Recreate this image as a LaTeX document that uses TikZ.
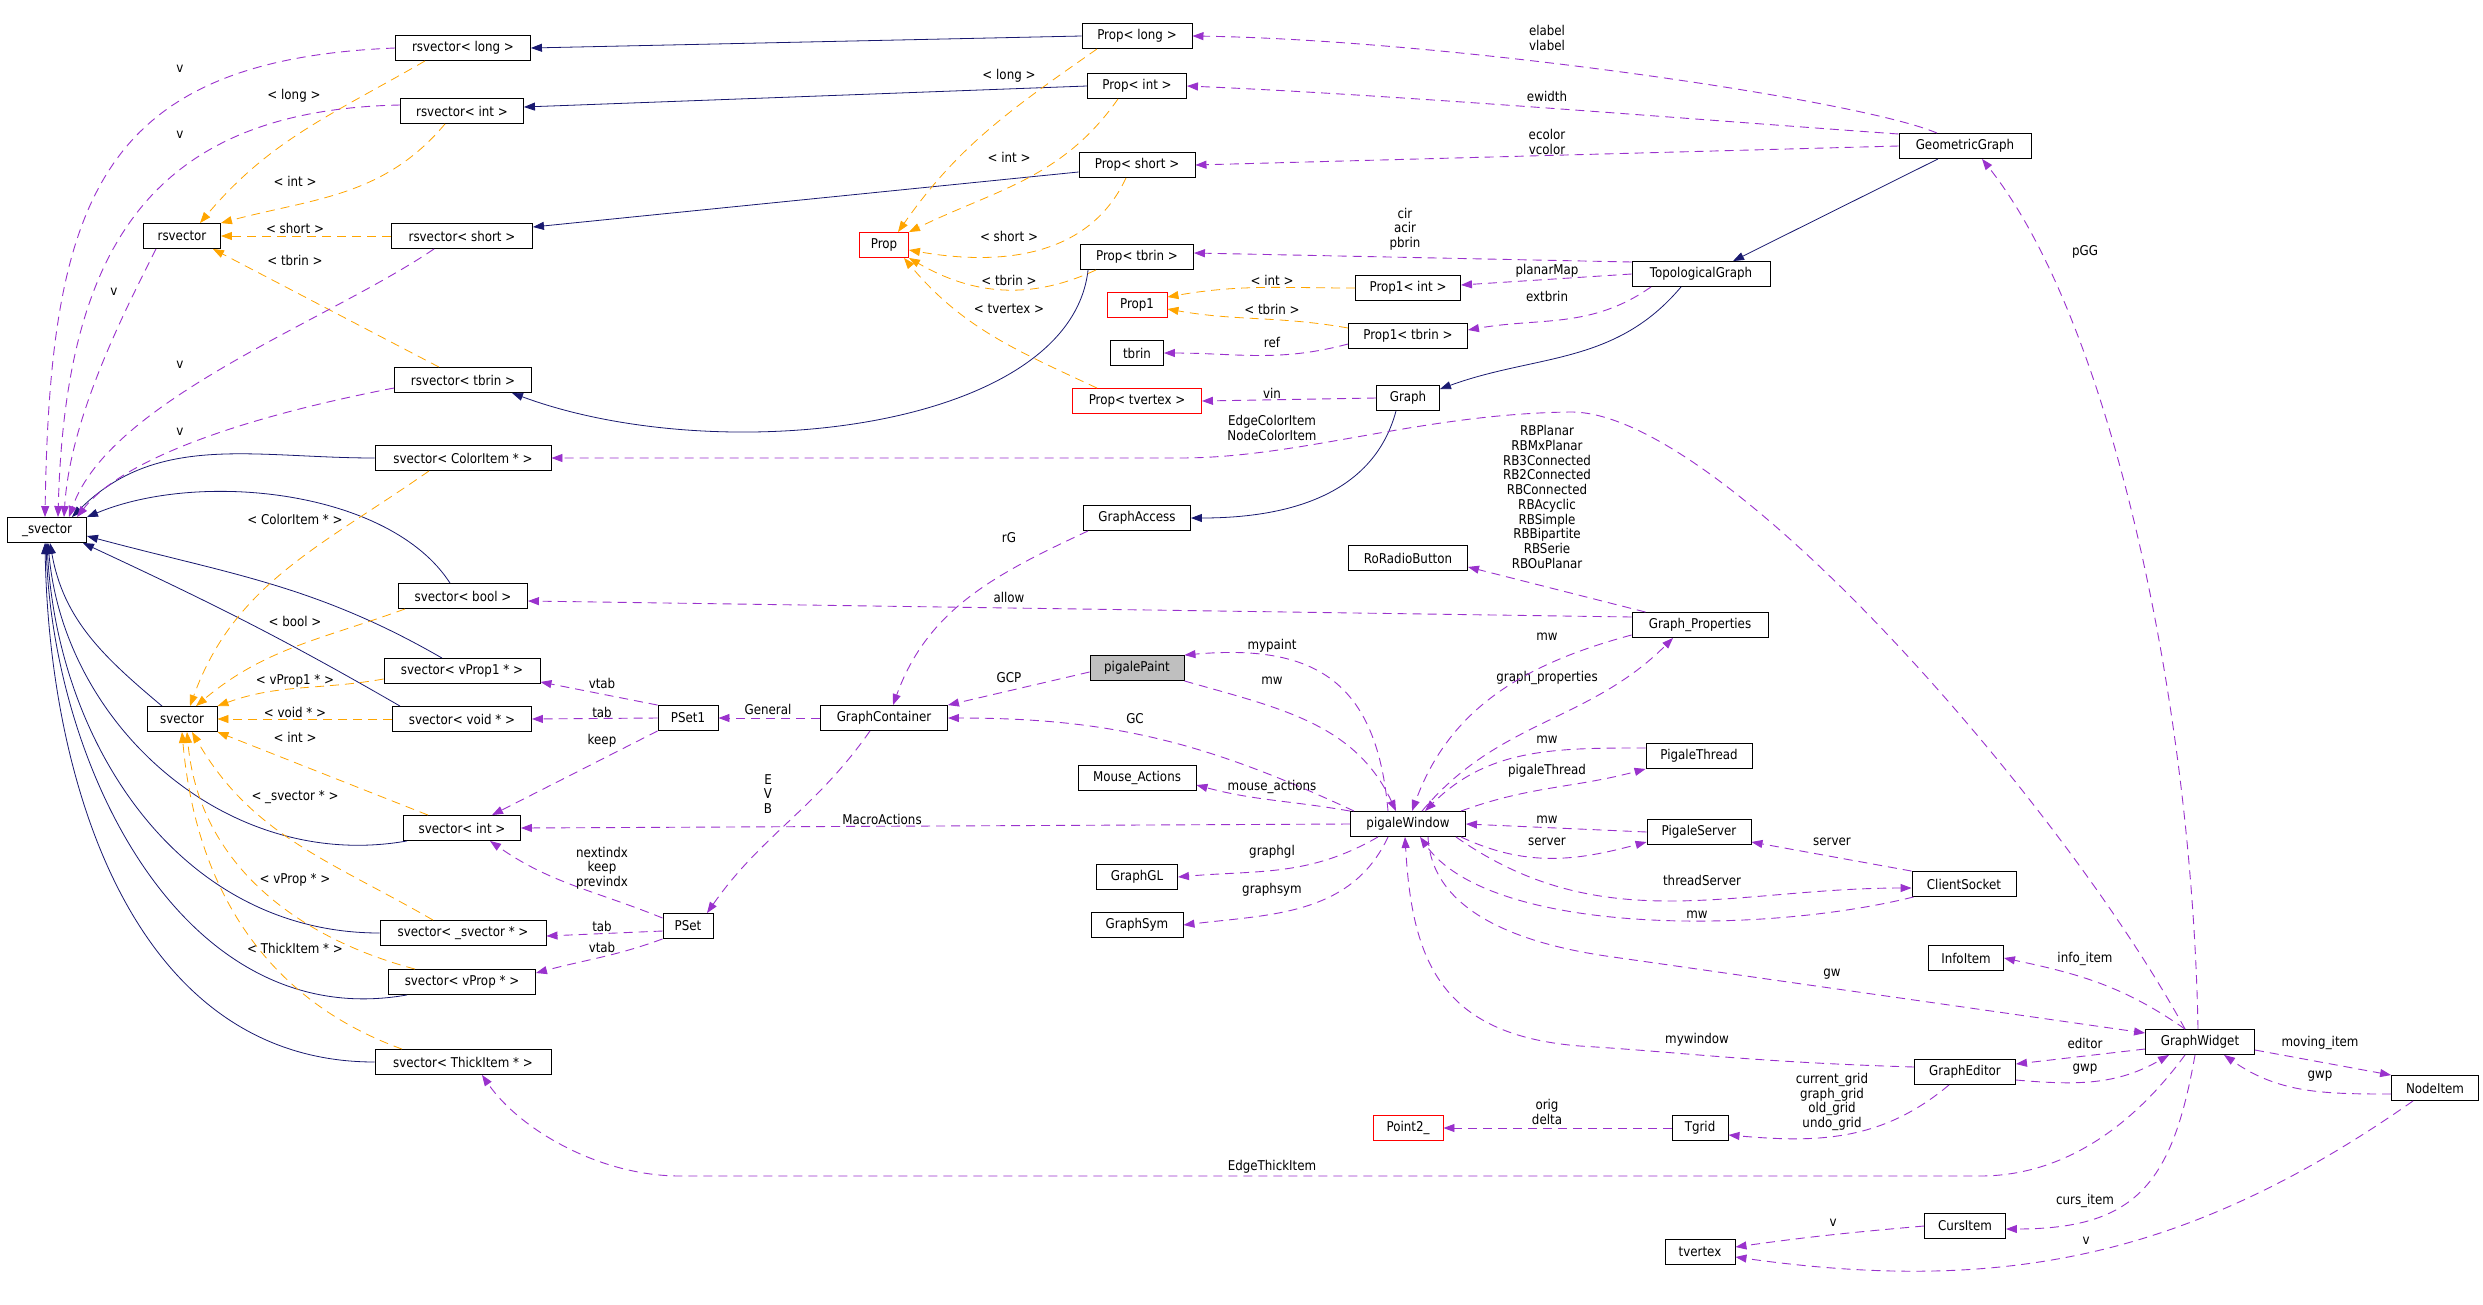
\documentclass[tikz,border=0pt]{standalone}
\usepackage{fontspec}
\setmainfont{DejaVu Sans}[FakeStretch=0.88]
\usetikzlibrary{arrows.meta}
\usepackage{xcolor}
\definecolor{inherit}{HTML}{191970}
\definecolor{member}{HTML}{9A32CD}
\definecolor{templ}{HTML}{FFA500}
\definecolor{focus}{HTML}{BFBFBF}
\tikzset{
  >={Triangle[length=11pt,width=8pt]},
  every node/.style={font=\fontsize{13.5}{14.7}\selectfont,text=black},
  cls/.style={draw=black,line width=0.9pt,fill=white,minimum height=25pt,inner xsep=2pt,inner ysep=2pt,align=center},
  undoccls/.style={cls,draw=red},
  focuscls/.style={cls,fill=focus},
  isa/.style={->,line width=0.8pt,draw=inherit},
  uses/.style={->,line width=0.9pt,draw=member,dash pattern=on 9pt off 6pt},
  tmpl/.style={->,line width=0.8pt,draw=templ,dash pattern=on 9pt off 6pt},
  lbl/.style={inner sep=0pt,align=center},
}

\begin{document}
\begin{tikzpicture}[x=1pt,y=-1pt]
\path[use as bounding box,fill=white] (0,0) rectangle (2483,1304);

\node[cls,minimum width=79pt] (usvector) at (47,530) {\_svector};
\node[cls,minimum width=77pt] (rsvector) at (182,236) {rsvector};
\node[cls,minimum width=70pt] (svector) at (182,719) {svector};
\node[cls,minimum width=135pt] (rsvLong) at (463,48) {rsvector< long >};
\node[cls,minimum width=123pt] (rsvInt) at (462,111) {rsvector< int >};
\node[cls,minimum width=141pt] (rsvShort) at (462,236) {rsvector< short >};
\node[cls,minimum width=137pt] (rsvTbrin) at (463,380) {rsvector< tbrin >};
\node[cls,minimum width=176pt] (svColor) at (463,458) {svector< ColorItem * >};
\node[cls,minimum width=129pt] (svBool) at (463,596) {svector< bool >};
\node[cls,minimum width=156pt] (svVPropOne) at (462,671) {svector< vProp1 * >};
\node[cls,minimum width=139pt] (svVoid) at (462,719) {svector< void * >};
\node[cls,minimum width=117pt] (svInt) at (462,828) {svector< int >};
\node[cls,minimum width=166pt] (svSvector) at (463,933) {svector< \_svector * >};
\node[cls,minimum width=147pt] (svVProp) at (462,982) {svector< vProp * >};
\node[cls,minimum width=176pt] (svThick) at (463,1062) {svector< ThickItem * >};
\node[cls,minimum width=60pt] (PSetOne) at (688,718) {PSet1};
\node[cls,minimum width=50pt] (PSet) at (688,926) {PSet};
\node[undoccls,minimum width=49pt] (Prop) at (884,245) {Prop};
\node[cls,minimum width=127pt] (GraphContainer) at (884,718) {GraphContainer};
\node[cls,minimum width=110pt] (PropLong) at (1137,36) {Prop< long >};
\node[cls,minimum width=99pt] (PropInt) at (1137,86) {Prop< int >};
\node[cls,minimum width=116pt] (PropShort) at (1137,165) {Prop< short >};
\node[cls,minimum width=113pt] (PropTbrin) at (1137,257) {Prop< tbrin >};
\node[undoccls,minimum width=60pt] (PropOne) at (1137,305) {Prop1};
\node[cls,minimum width=53pt] (tbrin) at (1137,353) {tbrin};
\node[undoccls,minimum width=129pt] (PropTvertex) at (1137,401) {Prop< tvertex >};
\node[cls,minimum width=107pt] (GraphAccess) at (1137,518) {GraphAccess};
\node[focuscls,minimum width=94pt] (pigalePaint) at (1137,668) {pigalePaint};
\node[cls,minimum width=118pt] (MouseActions) at (1137,778) {Mouse\_Actions};
\node[cls,minimum width=81pt] (GraphGL) at (1137,877) {GraphGL};
\node[cls,minimum width=92pt] (GraphSym) at (1137,925) {GraphSym};
\node[cls,minimum width=105pt] (PropOneInt) at (1408,288) {Prop1< int >};
\node[cls,minimum width=119pt] (PropOneTbrin) at (1408,336) {Prop1< tbrin >};
\node[cls,minimum width=63pt] (Graph) at (1408,398) {Graph};
\node[cls,minimum width=119pt] (RoRadioButton) at (1408,558) {RoRadioButton};
\node[cls,minimum width=115pt] (pigaleWindow) at (1408,824) {pigaleWindow};
\node[undoccls,minimum width=70pt] (PointTwo) at (1408,1128) {Point2\_};
\node[cls,minimum width=138pt] (TopologicalGraph) at (1701,274) {TopologicalGraph};
\node[cls,minimum width=136pt] (GraphProperties) at (1700,625) {Graph\_Properties};
\node[cls,minimum width=106pt] (PigaleThread) at (1699,756) {PigaleThread};
\node[cls,minimum width=104pt] (PigaleServer) at (1699,832) {PigaleServer};
\node[cls,minimum width=56pt] (Tgrid) at (1700,1128) {Tgrid};
\node[cls,minimum width=70pt] (tvertex) at (1700,1252) {tvertex};
\node[cls,minimum width=132pt] (GeometricGraph) at (1965,146) {GeometricGraph};
\node[cls,minimum width=104pt] (ClientSocket) at (1964,884) {ClientSocket};
\node[cls,minimum width=75pt] (InfoItem) at (1966,958) {InfoItem};
\node[cls,minimum width=101pt] (GraphEditor) at (1965,1072) {GraphEditor};
\node[cls,minimum width=81pt] (CursItem) at (1965,1226) {CursItem};
\node[cls,minimum width=109pt] (GraphWidget) at (2200,1042) {GraphWidget};
\node[cls,minimum width=87pt] (NodeItem) at (2435,1088) {NodeItem};

% inheritance
\draw[isa] (PropLong.west) -- (rsvLong.east);
\draw[isa] (PropInt.west) -- ([yshift=4pt]rsvInt.east);
\draw[isa] ([yshift=-7pt]PropShort.west) -- ([yshift=9pt]rsvShort.east);
\draw[isa] ([xshift=8pt]PropTbrin.south west) .. controls (1070,430) and (720,470) .. ([xshift=-20pt]rsvTbrin.south east);
\draw[isa] ([xshift=-27pt]GeometricGraph.south) -- ([xshift=32pt]TopologicalGraph.north);
\draw[isa] ([xshift=-20pt]TopologicalGraph.south) to[out=-130,in=20] ([yshift=-4pt]Graph.north east);
\draw[isa] ([xshift=-12pt]Graph.south) to[out=-105,in=0] (GraphAccess.east);
\draw[isa] (svColor.west) to[out=180,in=45] ([xshift=-15pt]usvector.north east);
\draw[isa] ([xshift=-13pt]svBool.north) .. controls (390,490) and (200,470) .. (usvector.north east);
\draw[isa] ([xshift=-20pt]svVPropOne.north) to[out=150,in=-15] ([yshift=-6pt]usvector.east);
\draw[isa] ([xshift=-62pt]svVoid.north) to[out=150,in=-25] ([xshift=-4pt]usvector.south east);
\draw[isa] ([xshift=-20pt]svector.north) to[out=140,in=-80] ([xshift=3pt]usvector.south);
\draw[isa] ([xshift=-55pt]svInt.south) to[out=-170,in=-85] ([xshift=1pt]usvector.south);
\draw[isa] (svSvector.west) to[out=180,in=-87] (usvector.south);
\draw[isa] ([xshift=-55pt]svVProp.south) to[out=-170,in=-88] ([xshift=-1pt]usvector.south);
\draw[isa] (svThick.west) to[out=180,in=-89] ([xshift=-2pt]usvector.south);

% template instances
\draw[tmpl] ([xshift=-38pt]rsvLong.south) to[out=-150,in=50] ([xshift=18pt]rsvector.north) node[lbl] at (294,96) {< long >};
\draw[tmpl] ([xshift=-17pt]rsvInt.south) to[out=-130,in=15] (rsvector.north east) node[lbl] at (295,181) {< int >};
\draw[tmpl] (rsvShort.west) -- (rsvector.east) node[lbl] at (295,228) {< short >};
\draw[tmpl] ([xshift=-24pt]rsvTbrin.north) -- ([xshift=-8pt]rsvector.south east) node[lbl] at (295,260) {< tbrin >};
\draw[tmpl] ([xshift=-40pt]PropLong.south) to[out=-145,in=55] ([xshift=14pt]Prop.north) node[lbl] at (1009,76) {< long >};
\draw[tmpl] ([xshift=-19pt]PropInt.south) to[out=-125,in=26] (Prop.north east) node[lbl] at (1009,157) {< int >};
\draw[tmpl] ([xshift=-11pt]PropShort.south) to[out=-115,in=-10] ([yshift=-5pt]Prop.east) node[lbl] at (1009,236) {< short >};
\draw[tmpl] ([xshift=-41pt]PropTbrin.south) to[out=-155,in=-30] (Prop.south east) node[lbl] at (1009,280) {< tbrin >};
\draw[tmpl] ([xshift=-40pt]PropTvertex.north) to[out=155,in=-50] ([xshift=-5pt]Prop.south east) node[lbl] at (1009,309) {< tvertex >};
\draw[tmpl] (PropOneInt.west) to[out=180,in=10] ([yshift=8pt]PropOne.east) node[lbl] at (1272,280) {< int >};
\draw[tmpl] ([yshift=8pt]PropOneTbrin.west) to[out=170,in=-10] ([yshift=-4pt]PropOne.east) node[lbl] at (1272,309) {< tbrin >};
\draw[tmpl] ([xshift=-34pt]svColor.south) to[out=-145,in=70] ([xshift=8pt]svector.north) node[lbl] at (295,519) {< ColorItem * >};
\draw[tmpl] ([xshift=-58pt]svBool.south) to[out=-160,in=40] ([xshift=14pt]svector.north) node[lbl] at (295,621) {< bool >};
\draw[tmpl] ([yshift=-8pt]svVPropOne.west) to[out=-170,in=20] (svector.north east) node[lbl] at (295,681) {< vProp1 * >};
\draw[tmpl] (svVoid.west) -- (svector.east) node[lbl] at (295,712) {< void * >};
\draw[tmpl] ([xshift=-34pt]svInt.north) -- (svector.south east) node[lbl] at (295,737) {< int >};
\draw[tmpl] ([xshift=-30pt]svSvector.north) to[out=150,in=-60] ([xshift=10pt]svector.south) node[lbl] at (295,797) {< \_svector * >};
\draw[tmpl] ([xshift=-47pt]svVProp.north) to[out=165,in=-85] ([xshift=5pt]svector.south) node[lbl] at (295,880) {< vProp * >};
\draw[tmpl] ([xshift=-61pt]svThick.north) to[out=160,in=-85] (svector.south) node[lbl] at (295,948) {< ThickItem * >};

% members
\draw[uses] (rsvLong.west) .. controls (100,60) and (50,200) .. ([xshift=-2pt]usvector.north) node[lbl] at (180,69) {v};
\draw[uses] ([yshift=6pt]rsvInt.west) .. controls (150,110) and (65,250) .. ([xshift=11pt]usvector.north) node[lbl] at (180,135) {v};
\draw[uses] ([xshift=-26pt]rsvector.south) .. controls (120,320) and (70,420) .. ([xshift=17pt]usvector.north) node[lbl] at (114,292) {v};
\draw[uses] ([xshift=-28pt]rsvShort.south) .. controls (330,320) and (110,400) .. ([xshift=22pt]usvector.north) node[lbl] at (180,365) {v};
\draw[uses] ([yshift=-8pt]rsvTbrin.west) .. controls (280,410) and (130,450) .. ([xshift=30pt]usvector.north) node[lbl] at (180,432) {v};
\draw[uses] ([xshift=-28pt]GeometricGraph.north) .. controls (1860,100) and (1450,40) .. (PropLong.east) node[lbl] at (1547,38) {elabel\\vlabel};
\draw[uses] ([yshift=12pt]GeometricGraph.west) .. controls (1700,120) and (1400,95) .. (PropInt.east) node[lbl] at (1547,96) {ewidth};
\draw[uses] (GeometricGraph.west) -- (PropShort.east) node[lbl] at (1547,142) {ecolor\\vcolor};
\draw[uses] ([yshift=12pt]TopologicalGraph.west) -- ([yshift=4pt]PropTbrin.east) node[lbl] at (1405,229) {cir\\acir\\pbrin};
\draw[uses] (TopologicalGraph.west) -- ([yshift=3pt]PropOneInt.east) node[lbl] at (1547,271) {planarMap};
\draw[uses] ([xshift=-50pt]TopologicalGraph.south) to[out=-145,in=10] ([yshift=6pt]PropOneTbrin.east) node[lbl] at (1547,296) {extbrin};
\draw[uses] ([yshift=-8pt]PropOneTbrin.west) to[out=195,in=0] (tbrin.east) node[lbl] at (1272,342) {ref};
\draw[uses] (Graph.west) -- (PropTvertex.east) node[lbl] at (1272,393) {vin};
\draw[uses] ([xshift=-15pt]GraphWidget.north) .. controls (2060,800) and (1720,410) .. (1570,412) .. controls (1420,414) and (1300,458) .. (1180,458) -- (svColor.east) node[lbl] at (1272,428) {EdgeColorItem\\NodeColorItem};
\draw[uses] ([xshift=-2pt]GraphWidget.north) .. controls (2192,700) and (2110,320) .. ([xshift=17pt]GeometricGraph.south) node[lbl] at (2085,252) {pGG};
\draw[uses] ([yshift=8pt]GraphProperties.west) -- ([yshift=-5pt]svBool.east) node[lbl] at (1009,597) {allow};
\draw[uses] ([xshift=14pt]GraphProperties.north west) -- ([yshift=4pt]RoRadioButton.south east) node[lbl] at (1547,497) {RBPlanar\\RBMxPlanar\\RB3Connected\\RB2Connected\\RBConnected\\RBAcyclic\\RBSimple\\RBBipartite\\RBSerie\\RBOuPlanar};
\draw[uses] ([xshift=-49pt]GraphAccess.south) to[out=-155,in=70] ([xshift=9pt]GraphContainer.north) node[lbl] at (1009,538) {rG};
\draw[uses] ([yshift=-4pt]pigalePaint.west) -- (GraphContainer.north east) node[lbl] at (1009,678) {GCP};
\draw[uses] ([xshift=4pt]pigaleWindow.north west) to[out=155,in=0] (GraphContainer.east) node[lbl] at (1135,719) {GC};
\draw[uses] (GraphContainer.west) -- (PSetOne.east) node[lbl] at (768,709) {General};
\draw[uses] ([xshift=-14pt]GraphContainer.south) to[out=-125,in=55] ([xshift=19pt]PSet.north) node[lbl] at (768,794) {E\\V\\B};
\draw[uses] (PSetOne.north west) -- ([yshift=2pt]svVPropOne.south east) node[lbl] at (602,683) {vtab};
\draw[uses] (PSetOne.west) -- (svVoid.east) node[lbl] at (602,712) {tab};
\draw[uses] (PSetOne.south west) -- ([xshift=30pt]svInt.north) node[lbl] at (602,741) {keep};
\draw[uses] ([yshift=8pt]PSet.west) to[out=158,in=-35] ([xshift=28pt]svInt.south) node[lbl] at (602,868) {nextindx\\keep\\previndx};
\draw[uses] ([yshift=-5pt]PSet.west) -- ([yshift=-3pt]svSvector.east) node[lbl] at (602,926) {tab};
\draw[uses] (PSet.south west) to[out=-160,in=15] ([yshift=9pt]svVProp.east) node[lbl] at (602,947) {vtab};
\draw[uses] ([xshift=-15pt]GraphWidget.south) .. controls (2130,1130) and (2060,1176) .. (1980,1176) -- (680,1176) .. controls (600,1176) and (520,1130) .. ([xshift=19pt]svThick.south) node[lbl] at (1272,1167) {EdgeThickItem};
\draw[uses] ([xshift=-20pt]pigaleWindow.north) to[out=95,in=5,looseness=1.3] (pigalePaint.north east) node[lbl] at (1272,646) {mypaint};
\draw[uses] (pigalePaint.south east) to[out=-16,in=115] ([xshift=-12pt]pigaleWindow.north) node[lbl] at (1272,681) {mw};
\draw[uses] (pigaleWindow.north west) to[out=170,in=-15] ([yshift=-7pt]MouseActions.east) node[lbl] at (1272,787) {mouse\_actions};
\draw[uses] (pigaleWindow.west) -- (svInt.east) node[lbl] at (882,819) {MacroActions};
\draw[uses] ([xshift=-30pt]pigaleWindow.south) to[out=-150,in=5] (GraphGL.east) node[lbl] at (1272,852) {graphgl};
\draw[uses] ([xshift=-20pt]pigaleWindow.south) to[out=-115,in=7] (GraphSym.east) node[lbl] at (1272,890) {graphsym};
\draw[uses] ([xshift=14pt]pigaleWindow.north) to[out=50,in=-135] ([xshift=-27pt]GraphProperties.south) node[lbl] at (1547,678) {graph\_properties};
\draw[uses] ([yshift=-10pt]GraphProperties.west) to[out=195,in=70] ([xshift=4pt]pigaleWindow.north) node[lbl] at (1547,637) {mw};
\draw[uses] ([yshift=8pt]PigaleThread.west) to[out=180,in=45] ([xshift=17pt]pigaleWindow.north) node[lbl] at (1547,740) {mw};
\draw[uses] ([xshift=-5pt]pigaleWindow.north east) to[out=20,in=195] (PigaleThread.south west) node[lbl] at (1547,771) {pigaleThread};
\draw[uses] (PigaleServer.west) -- (pigaleWindow.east) node[lbl] at (1547,820) {mw};
\draw[uses] ([xshift=-5pt]pigaleWindow.south east) to[out=-25,in=195] ([yshift=-10pt]PigaleServer.west) node[lbl] at (1547,842) {server};
\draw[uses] (ClientSocket.north west) -- ([yshift=-10pt]PigaleServer.east) node[lbl] at (1832,842) {server};
\draw[uses] ([xshift=-10pt]pigaleWindow.south east) to[out=-35,in=180] ([yshift=-4pt]ClientSocket.west) node[lbl] at (1702,880) {threadServer};
\draw[uses] ([xshift=2pt]ClientSocket.south west) .. controls (1760,935) and (1490,935) .. ([xshift=12pt]pigaleWindow.south) node[lbl] at (1697,915) {mw};
\draw[uses] ([xshift=20pt]pigaleWindow.south) .. controls (1432,920) and (1540,947) .. (1613,957) -- ([yshift=9pt]GraphWidget.west) node[lbl] at (1832,974) {gw};
\draw[uses] ([yshift=5pt]GraphEditor.west) .. controls (1750,1062) and (1680,1052) .. (1580,1046) .. controls (1440,1035) and (1412,960) .. ([xshift=-3pt]pigaleWindow.south) node[lbl] at (1697,1040) {mywindow};
\draw[uses] ([xshift=-15pt]GraphWidget.north) to[out=145,in=-12] (InfoItem.east) node[lbl] at (2085,959) {info\_item};
\draw[uses] ([yshift=-7pt]GraphWidget.west) -- ([yshift=8pt]GraphEditor.east) node[lbl] at (2085,1043) {editor};
\draw[uses] ([yshift=-8pt]GraphEditor.east) to[out=-5,in=-150] ([xshift=-31pt]GraphWidget.south) node[lbl] at (2085,1069) {gwp};
\draw[uses] ([yshift=-8pt]GraphWidget.east) -- (NodeItem.north west) node[lbl] at (2320,1043) {moving\_item};
\draw[uses] ([yshift=-6pt]NodeItem.west) to[out=180,in=-35] ([xshift=24pt]GraphWidget.south) node[lbl] at (2320,1076) {gwp};
\draw[uses] ([xshift=-16pt]GraphEditor.south) to[out=-140,in=-5] ([yshift=-7pt]Tgrid.east) node[lbl] at (1832,1102) {current\_grid\\graph\_grid\\old\_grid\\undo\_grid};
\draw[uses] (Tgrid.west) -- (PointTwo.east) node[lbl] at (1547,1112) {orig\\delta};
\draw[uses] ([xshift=-5pt]GraphWidget.south) to[out=-100,in=0,looseness=1.3] ([yshift=-3pt]CursItem.east) node[lbl] at (2085,1201) {curs\_item};
\draw[uses] (CursItem.west) to[out=185,in=8] ([yshift=5pt]tvertex.east) node[lbl] at (1833,1223) {v};
\draw[uses] ([xshift=-22pt]NodeItem.south) to[out=-145,in=-8] ([yshift=-5pt]tvertex.east) node[lbl] at (2086,1241) {v};

\end{tikzpicture}
\end{document}
